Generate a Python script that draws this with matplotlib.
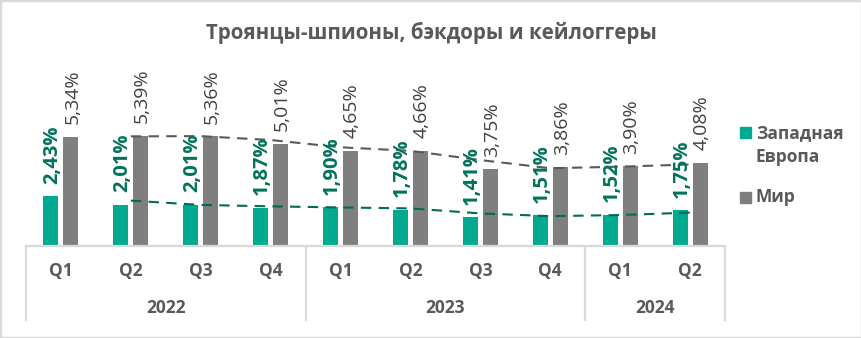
import matplotlib
matplotlib.use("Agg")
import matplotlib.pyplot as plt
from matplotlib.patches import Rectangle

plt.rcParams["font.family"] = ["Open Sans", "DejaVu Sans"]

quarters = ["Q1", "Q2", "Q3", "Q4", "Q1", "Q2", "Q3", "Q4", "Q1", "Q2"]
years = ["2022", "2023", "2024"]
year_sizes = [4, 4, 2]
west_europe = [2.43, 2.01, 2.01, 1.87, 1.90, 1.78, 1.41, 1.51, 1.52, 1.75]
world = [5.34, 5.39, 5.36, 5.01, 4.65, 4.66, 3.75, 3.86, 3.90, 4.08]
series_names = ["Западная\nЕвропа", "Мир"]

TEAL, TEAL_DARK, TEAL_LINE = "#00A98F", "#00735C", "#006B57"
GRAY, GRAY_TEXT, GRAY_LINE = "#7F7F7F", "#404040", "#595959"
AXIS_GRAY = "#D9D9D9"
W, H = 862, 338


def fmt(v):
    return f"{v:.2f}".replace(".", ",") + "%"


def moving_avg(vals):
    # two-period moving average, starts at the second point
    return [(a + b) / 2 for a, b in zip(vals[:-1], vals[1:])]


fig = plt.figure(figsize=(W / 100, H / 100), dpi=100)
fig.patches.append(Rectangle((0, 0), 1, 1, transform=fig.transFigure, fill=False,
                             ec=AXIS_GRAY, lw=2.5))

base = 246
ax = fig.add_axes([26 / W, (H - base) / H, 699 / W, 186 / H])
n = len(quarters)
x = list(range(n))
off, bw = 0.143, 0.215
xw = [i - off for i in x]
xm = [i + off for i in x]
ax.bar(xw, west_europe, width=bw, color=TEAL, zorder=2)
ax.bar(xm, world, width=bw, color=GRAY, zorder=2)

for xi, v in zip(xw, west_europe):
    ax.annotate(fmt(v), (xi, v), xytext=(1, 9), textcoords="offset points",
                rotation=90, ha="center", va="bottom", fontsize=14.5,
                fontweight="bold", color=TEAL_DARK, zorder=4)
for xi, v in zip(xm, world):
    ax.annotate(fmt(v), (xi, v), xytext=(1, 9), textcoords="offset points",
                rotation=90, ha="center", va="bottom", fontsize=14,
                color=GRAY_TEXT, zorder=4)

# moving-average trendlines
ax.plot(x[1:], moving_avg(west_europe), ls=(0, (5, 3.5)), lw=1.5, color=TEAL_LINE, zorder=3)
ax.plot(x[1:], moving_avg(world), ls=(0, (5, 3.5)), lw=1.5, color=GRAY_LINE, zorder=3)

ax.set_xlim(-0.5, n - 0.5)
ax.set_ylim(0, 9.1)
ax.axis("off")

# two-level category axis
tax = fig.add_axes([26 / W, 18 / H, 699 / W, (320 - base) / H])
tax.set_xlim(-0.5, n - 0.5)
tax.set_ylim(0, 1)
tax.axis("off")
tax.plot([-0.5, n - 0.5], [1, 1], color=AXIS_GRAY, lw=1.6, clip_on=False)
start = -0.5
tax.plot([start, start], [0, 1], color=AXIS_GRAY, lw=1.6, clip_on=False)
for yr, size in zip(years, year_sizes):
    end = start + size
    tax.plot([end, end], [0, 1], color=AXIS_GRAY, lw=1.6, clip_on=False)
    tax.text((start + end) / 2, 0.16, yr, ha="center", va="center",
             fontsize=12.5, fontweight="bold", color=GRAY_LINE)
    start = end
for xi, q in zip(x, quarters):
    tax.text(xi, 0.66, q, ha="center", va="center", fontsize=12.5,
             fontweight="bold", color=GRAY_LINE)

fig.text(0.5, 1 - 33 / H, "Троянцы-шпионы, бэкдоры и кейлоггеры", ha="center",
         va="center", fontsize=14.8, fontweight="bold", color=GRAY_LINE)

# legend: square aligned with the first line of each entry
for name, color, top in zip(series_names, [TEAL, GRAY], [133, 197]):
    fig.patches.append(Rectangle((740 / W, 1 - (top + 5.5) / H), 11 / W, 11 / H,
                                 transform=fig.transFigure, color=color))
    fig.text(756 / W, 1 - (top - 9) / H, name, ha="left", va="top",
             fontsize=12.5, fontweight="bold", color=GRAY_LINE, linespacing=1.45)

fig.savefig("out.png", dpi=100)
